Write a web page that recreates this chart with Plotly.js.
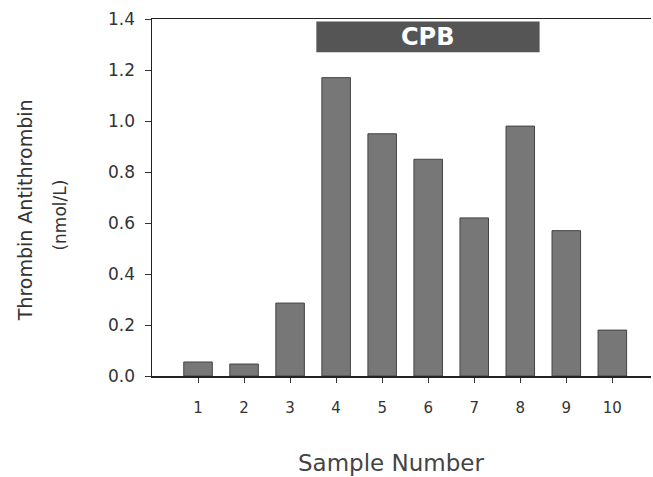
<!DOCTYPE html>
<html><head><meta charset="utf-8">
<script src="https://cdn.plot.ly/plotly-3.0.1.min.js"></script>
<style>body{margin:0;background:#fff}#c{width:653px;height:477px}</style>
</head><body><div id="c"></div>
<script>
const samples = [1,2,3,4,5,6,7,8,9,10];
const tat = [0.055,0.047,0.286,1.17,0.95,0.85,0.62,0.98,0.57,0.18];
const yTicks = [0,0.2,0.4,0.6,0.8,1.0,1.2,1.4];
const yTickText = ['0.0','0.2','0.4','0.6','0.8','1.0','1.2','1.4'];
const cpbLabel = 'CPB';
const cpbStart = 3.57, cpbEnd = 8.42;
const xTitle = 'Sample Number';
const yTitle1 = 'Thrombin Antithrombin';
const yTitle2 = '(nmol/L)';

const font = 'DejaVu Sans, Verdana, sans-serif';
Plotly.newPlot('c', [{
  type:'bar', x:samples, y:tat, width:0.62,
  marker:{color:'#777777', line:{color:'#444', width:1}},
  hoverinfo:'skip'
}], {
  width:653, height:477,
  margin:{l:152, r:2, t:19, b:101},
  paper_bgcolor:'#fff', plot_bgcolor:'#fff',
  showlegend:false,
  xaxis:{range:[0,10.84], tickvals:samples, ticktext:samples.map(String),
    ticks:'outside', ticklen:5, tickcolor:'#333', tickwidth:1,
    ticklabelstandoff:12,
    showline:true, linecolor:'#222', linewidth:1.5, mirror:true,
    showgrid:false, zeroline:false,
    tickfont:{family:font, size:15, color:'#333'}},
  yaxis:{range:[0,1.4], tickvals:yTicks, ticktext:yTickText,
    ticks:'outside', ticklen:6, tickcolor:'#333',
    ticklabelstandoff:6,
    showline:true, linecolor:'#222', linewidth:1.5,
    showgrid:false, zeroline:false,
    tickfont:{family:font, size:17, color:'#333'}},
  shapes:[{type:'rect', xref:'x', yref:'y', x0:cpbStart, x1:cpbEnd, y0:1.27, y1:1.39,
    fillcolor:'#555', line:{width:0}}],
  annotations:[
    {x:(cpbStart+cpbEnd)/2, y:1.33, xref:'x', yref:'y', text:'<b>'+cpbLabel+'</b>',
      showarrow:false, font:{family:font, size:24, color:'#fff'}},
    {x:0.479, y:-0.244, xref:'paper', yref:'paper', text:xTitle, showarrow:false,
      xanchor:'center', yanchor:'middle', font:{family:font, size:23, color:'#444'}},
    {x:-0.254, y:0.465, xref:'paper', yref:'paper', text:yTitle1, showarrow:false, textangle:-90,
      xanchor:'center', yanchor:'middle', font:{family:font, size:19, color:'#333'}},
    {x:-0.184, y:0.45, xref:'paper', yref:'paper', text:yTitle2, showarrow:false, textangle:-90,
      xanchor:'center', yanchor:'middle', font:{family:font, size:17, color:'#333'}}
  ]
}, {staticPlot:true});
</script></body></html>
